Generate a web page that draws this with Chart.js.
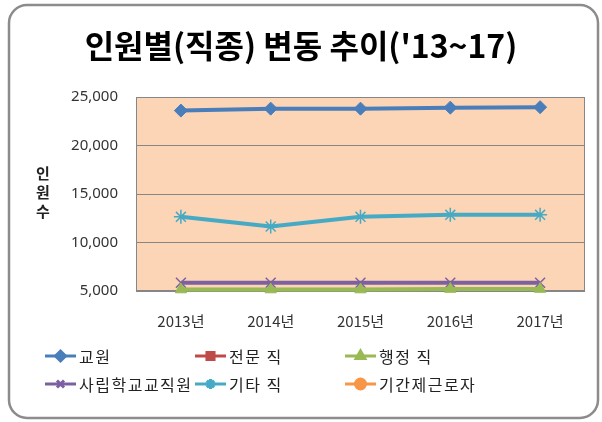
<!DOCTYPE html>
<html>
<head>
<meta charset="utf-8">
<script src="https://cdn.jsdelivr.net/npm/chart.js@4/dist/chart.umd.min.js"></script>
<style>
html,body{margin:0;padding:0;background:#fff;}
#wrap{width:602px;height:422px;position:relative;}
</style>
</head>
<body>
<div id="wrap"><canvas id="c" width="602" height="422"></canvas></div>
<script>
const title = "인원별(직종) 변동 추이('13~17)";
const yAxisTitle = "인원수";
const categories = ["2013년", "2014년", "2015년", "2016년", "2017년"];
const seriesNames = ["교원", "전문 직", "행정 직", "사립학교교직원", "기타 직", "기간제근로자"];
const teachers      = [23600, 23800, 23800, 23900, 23950];
const professional  = [1500, 1500, 1550, 1600, 1600];
const administrative= [5150, 5150, 5150, 5200, 5200];
const privateStaff  = [5850, 5850, 5850, 5850, 5850];
const otherJobs     = [12650, 11650, 12650, 12850, 12850];
const contractWorkers = [3200, 3100, 3300, 3400, 3500];
const yTicks = [5000, 10000, 15000, 20000, 25000];

const colors = ["#4A7EBB", "#BE4B48", "#98B954", "#7D60A0", "#46AAC5", "#F79646"];
const styles = ["rectRot", "rect", "triangle", "crossRot", "star", "circle"];
const values = [teachers, professional, administrative, privateStaff, otherJobs, contractWorkers];

const datasets = seriesNames.map((n, i) => ({
  label: n,
  data: values[i],
  borderColor: colors[i],
  backgroundColor: colors[i],
  pointBackgroundColor: colors[i],
  pointBorderColor: colors[i],
  pointStyle: styles[i],
  pointRadius: (styles[i] === "crossRot" || styles[i] === "star") ? 7 : 6.5,
  pointBorderWidth: (styles[i] === "crossRot" || styles[i] === "star") ? 1.5 : 1,
  borderWidth: 4,
  tension: 0,
  clip: 8
}));

const frame = {
  id: 'frame',
  beforeDraw(chart) {
    const ctx = chart.ctx;
    const a = chart.chartArea;
    ctx.save();
    ctx.fillStyle = '#fff';
    ctx.fillRect(0, 0, chart.width, chart.height);
    ctx.beginPath();
    ctx.roundRect(9, 5, 589, 413, 18);
    ctx.lineWidth = 2.5;
    ctx.strokeStyle = '#8c8c8c';
    ctx.stroke();
    ctx.fillStyle = '#FBD5B5';
    ctx.fillRect(a.left, a.top, a.right - a.left, a.bottom - a.top);
    ctx.restore();
  },
  beforeDatasetsDraw(chart) {
    const ctx = chart.ctx;
    const a = chart.chartArea;
    ctx.save();
    ctx.strokeStyle = '#868686';
    ctx.lineWidth = 1;
    ctx.strokeRect(a.left + 0.5, a.top + 0.5, a.right - a.left - 1, a.bottom - a.top - 1);
    ctx.restore();
  },
  afterDraw(chart) {
    const ctx = chart.ctx;
    ctx.save();
    ctx.fillStyle = '#000';
    ctx.font = 'bold 32px "Noto Sans CJK KR", sans-serif';
    ctx.textAlign = 'center';
    ctx.textBaseline = 'middle';
    ctx.fillText(title, 301, 46);
    ctx.font = 'bold 15px "Noto Sans CJK KR", sans-serif';
    ctx.fillStyle = '#222';
    [...yAxisTitle].forEach((ch, i) => ctx.fillText(ch, 43, 173 + i * 19));
    const colX = [45, 195, 345];
    const rowY = [356, 384];
    ctx.font = '16px "Noto Sans CJK KR", sans-serif';
    ctx.textAlign = 'left';
    chart.data.datasets.forEach((ds, i) => {
      const x = colX[i % 3], y = rowY[Math.floor(i / 3)];
      ctx.strokeStyle = ds.borderColor;
      ctx.lineWidth = 3;
      ctx.beginPath();
      ctx.moveTo(x, y); ctx.lineTo(x + 31, y);
      ctx.stroke();
      ctx.fillStyle = ds.backgroundColor;
      ctx.strokeStyle = ds.borderColor;
      Chart.helpers.drawPoint(ctx, {
        pointStyle: ds.pointStyle,
        radius: 5,
        borderWidth: ds.pointBorderWidth,
        rotation: 0
      }, x + 15.5, y);
      ctx.fillStyle = '#222';
      ctx.letterSpacing = '1.5px';
      ctx.fillText(ds.label, x + 34, y + 1);
      ctx.letterSpacing = '0px';
    });
    ctx.restore();
  }
};

new Chart(document.getElementById('c'), {
  type: 'line',
  data: { labels: categories, datasets },
  options: {
    responsive: false,
    animation: false,
    devicePixelRatio: 1,
    layout: { padding: { left: 10, right: 17, top: 97, bottom: 91 } },
    plugins: { legend: { display: false }, title: { display: false }, tooltip: { enabled: false } },
    scales: {
      x: {
        offset: true,
        grid: { display: false, drawTicks: false },
        border: { display: false },
        ticks: { color: '#333', font: { size: 15, family: '"Noto Sans CJK KR", sans-serif' }, padding: 21, maxRotation: 0 },
        afterFit(s) { s.height = 40; }
      },
      y: {
        min: 5000, max: 25000,
        afterBuildTicks(s) { s.ticks = yTicks.map(v => ({ value: v })); },
        grid: { color: '#868686', drawTicks: false },
        border: { display: false },
        ticks: {
          color: '#333', padding: 18,
          font: { size: 15, family: '"Noto Sans", sans-serif' },
          callback: v => v.toLocaleString('en-US')
        },
        afterFit(s) { s.width = 126; }
      }
    }
  },
  plugins: [frame]
});
</script>
</body>
</html>
